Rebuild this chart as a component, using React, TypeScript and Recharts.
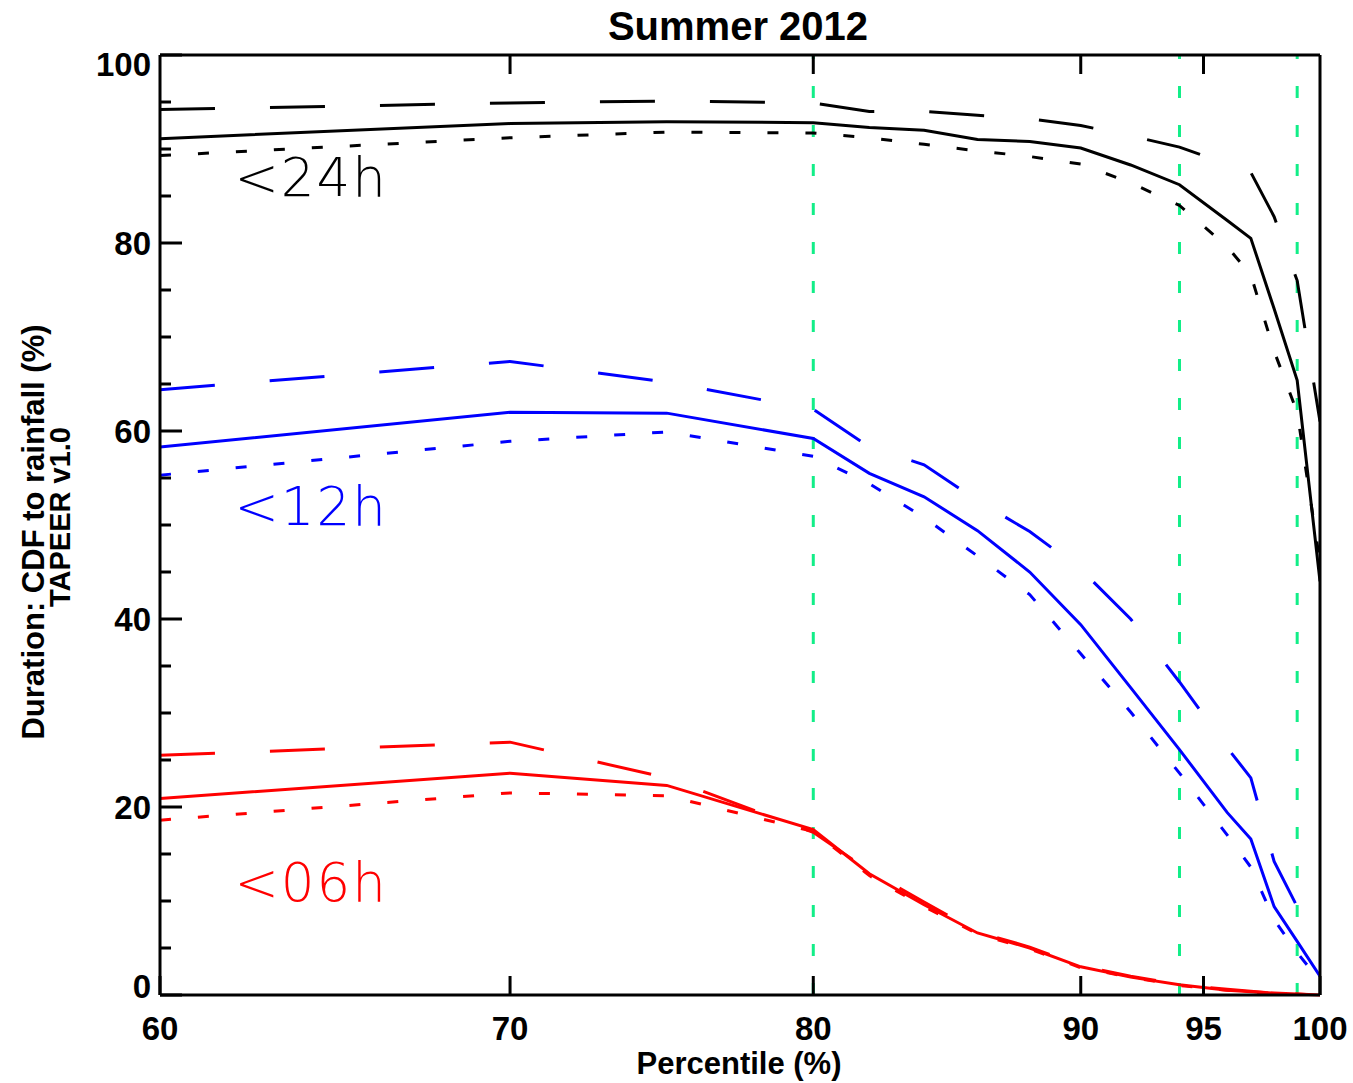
import { Line, LineChart, ReferenceDot, ReferenceLine, XAxis, YAxis } from "recharts";

// percentile grid of the curves
const PERCENTILES = [60, 70, 75, 80, 82, 84, 86, 88, 90, 92, 94, 96, 97, 98, 99, 100];

// <24h
const H24_SOLID = [91.1, 92.7, 92.9, 92.8, 92.3, 92.0, 91.0, 90.8, 90.1, 88.3, 86.2, 82.4, 80.5, 73.0, 65.4, 44.0];
const H24_DASHED = [94.2, 94.9, 95.1, 94.9, 94.0, 94.0, 93.6, 93.2, 92.5, 91.4, 90.2, 88.4, 87.5, 82.8, 76.0, 61.0];
const H24_DOTTED = [89.3, 91.2, 91.8, 91.7, 91.2, 90.5, 89.8, 89.2, 88.4, 86.4, 84.0, 79.6, 76.6, 68.5, 62.0, 46.0];

// <12h
const H12_SOLID = [58.3, 62.0, 61.9, 59.2, 55.5, 53.0, 49.4, 45.0, 39.4, 32.7, 26.1, 19.4, 16.6, 9.4, 5.7, 2.0];
const H12_DASHED = [64.4, 67.4, 65.2, 62.3, 58.3, 56.4, 52.6, 49.3, 45.3, 40.0, 33.3, 26.3, 23.1, 14.2, 9.4, 5.0];
const H12_DOTTED = [55.3, 58.9, 59.9, 57.3, 54.4, 50.8, 46.7, 42.6, 36.3, 30.1, 23.6, 17.0, 13.6, 8.0, 4.5, 1.5];

// <06h
const H06_SOLID = [20.9, 23.6, 22.3, 17.6, 12.9, 9.6, 6.6, 5.0, 3.0, 1.9, 1.1, 0.5, 0.35, 0.2, 0.1, 0];
const H06_DASHED = [25.5, 26.9, 23.1, 17.3, 13.2, 9.9, 6.7, 5.1, 3.1, 2.0, 1.1, 0.6, 0.4, 0.2, 0.1, 0];
const H06_DOTTED = [18.6, 21.5, 21.2, 17.4, 12.7, 9.4, 6.5, 4.9, 2.9, 1.9, 1.0, 0.5, 0.3, 0.2, 0.1, 0];

const X_TICKS = [60, 70, 80, 90, 95, 100];
const X_TICKS_TOP = [70, 80, 90, 95];
const Y_TICKS = [0, 5, 10, 15, 20, 25, 30, 35, 40, 45, 50, 55, 60, 65, 70, 75, 80, 85, 90, 95, 100];
const GUIDE_PERCENTILES = [80, 94, 99];

const data = PERCENTILES.map((p, i) => ({
  p,
  h24Solid: H24_SOLID[i],
  h24Dashed: H24_DASHED[i],
  h24Dotted: H24_DOTTED[i],
  h12Solid: H12_SOLID[i],
  h12Dashed: H12_DASHED[i],
  h12Dotted: H12_DOTTED[i],
  h06Solid: H06_SOLID[i],
  h06Dashed: H06_DASHED[i],
  h06Dotted: H06_DOTTED[i],
}));

const LONG_DASH = "55 55";
const SHORT_DASH = "11 27";

const SERIES = [
  { key: "h24Solid", color: "#000000", dash: undefined },
  { key: "h24Dashed", color: "#000000", dash: LONG_DASH },
  { key: "h24Dotted", color: "#000000", dash: SHORT_DASH },
  { key: "h12Solid", color: "#0000ff", dash: undefined },
  { key: "h12Dashed", color: "#0000ff", dash: LONG_DASH },
  { key: "h12Dotted", color: "#0000ff", dash: SHORT_DASH },
  { key: "h06Solid", color: "#ff0000", dash: undefined },
  { key: "h06Dashed", color: "#ff0000", dash: LONG_DASH },
  { key: "h06Dotted", color: "#ff0000", dash: SHORT_DASH },
];

const LABEL_FONT = "'Liberation Sans', Arial, sans-serif";
const AXIS = { stroke: "#000", strokeWidth: 3 };

function LeftTick(props: any) {
  const { x, y, payload } = props;
  const v = payload.value as number;
  const major = v % 20 === 0;
  const dy = v === 100 ? 9 : v === 0 ? -9 : 0;
  return (
    <g>
      <line x1={x} x2={x + (major ? 22 : 11)} y1={y} y2={y} stroke="#000" strokeWidth={3} />
      {major ? (
        <text
          x={x - 9}
          y={y + dy}
          textAnchor="end"
          dominantBaseline="central"
          fontFamily={LABEL_FONT}
          fontWeight={700}
          fontSize={33}
          fill="#000"
        >
          {v}
        </text>
      ) : null}
    </g>
  );
}

function RightTick(props: any) {
  const { x, y, payload } = props;
  const major = (payload.value as number) % 20 === 0;
  return <line x1={x} x2={x - (major ? 22 : 11)} y1={y} y2={y} stroke="#000" strokeWidth={3} />;
}

function BottomTick(props: any) {
  const { x, y, payload } = props;
  return (
    <g>
      <line x1={x} x2={x} y1={y} y2={y - 19} stroke="#000" strokeWidth={3} />
      <text
        x={x}
        y={y + 33}
        textAnchor="middle"
        dominantBaseline="central"
        fontFamily={LABEL_FONT}
        fontWeight={700}
        fontSize={33}
        fill="#000"
      >
        {payload.value}
      </text>
    </g>
  );
}

function TopTick(props: any) {
  const { x, y } = props;
  return <line x1={x} x2={x} y1={y} y2={y + 19} stroke="#000" strokeWidth={3} />;
}

function curveLabel(text: string, color: string) {
  return (props: any) => (
    <text
      x={props.cx}
      y={props.cy}
      fontFamily="'DejaVu Sans', sans-serif"
      fontWeight={300}
      fontSize={53}
      letterSpacing={2}
      fill={color}
    >
      {text}
    </text>
  );
}

export default function App() {
  return (
    <div style={{ position: "absolute", left: 0, top: 0, width: 1353, height: 1083, background: "#fff" }}>
      <LineChart width={1353} height={1083} data={data} margin={{ top: 54, right: 0, bottom: 0, left: 0 }}>
        <XAxis
          xAxisId="b"
          dataKey="p"
          type="number"
          scale="log"
          domain={[60, 100]}
          allowDataOverflow
          ticks={X_TICKS}
          interval={0}
          height={88}
          tickSize={0}
          tickMargin={0}
          tickLine={false}
          axisLine={AXIS}
          tick={<BottomTick />}
        />
        <XAxis
          xAxisId="t"
          orientation="top"
          dataKey="p"
          type="number"
          scale="log"
          domain={[60, 100]}
          allowDataOverflow
          ticks={X_TICKS_TOP}
          interval={0}
          height={1}
          tickSize={0}
          tickMargin={0}
          tickLine={false}
          axisLine={AXIS}
          tick={<TopTick />}
        />
        <YAxis
          yAxisId="l"
          type="number"
          domain={[0, 100]}
          ticks={Y_TICKS}
          interval={0}
          width={160}
          tickSize={0}
          tickMargin={0}
          tickLine={false}
          axisLine={AXIS}
          tick={<LeftTick />}
        />
        <YAxis
          yAxisId="r"
          orientation="right"
          type="number"
          domain={[0, 100]}
          ticks={Y_TICKS}
          interval={0}
          width={33}
          tickSize={0}
          tickMargin={0}
          tickLine={false}
          axisLine={AXIS}
          tick={<RightTick />}
        />
        {GUIDE_PERCENTILES.map((g) => (
          <ReferenceLine
            key={g}
            xAxisId="b"
            yAxisId="l"
            x={g}
            stroke="#12ee88"
            strokeWidth={3}
            strokeDasharray="12 27"
          />
        ))}
        {SERIES.map((s) => (
          <Line
            key={s.key}
            xAxisId="b"
            yAxisId="l"
            dataKey={s.key}
            type="linear"
            stroke={s.color}
            strokeWidth={3}
            strokeDasharray={s.dash}
            dot={false}
            activeDot={false}
            isAnimationActive={false}
          />
        ))}
        <ReferenceDot xAxisId="b" yAxisId="l" x={62} y={85} r={0} shape={curveLabel("<24h", "#000000")} />
        <ReferenceDot xAxisId="b" yAxisId="l" x={62} y={50} r={0} shape={curveLabel("<12h", "#0000ff")} />
        <ReferenceDot xAxisId="b" yAxisId="l" x={62} y={10} r={0} shape={curveLabel("<06h", "#ff0000")} />
      </LineChart>
      <svg width={1353} height={1083} style={{ position: "absolute", left: 0, top: 0, pointerEvents: "none" }}>
        <text x={738} y={26} textAnchor="middle" dominantBaseline="central" fontFamily={LABEL_FONT} fontWeight={700} fontSize={40}>
          Summer 2012
        </text>
        <text x={739} y={1063} textAnchor="middle" dominantBaseline="central" fontFamily={LABEL_FONT} fontWeight={700} fontSize={31}>
          Percentile (%)
        </text>
        <text
          transform="translate(33 532) rotate(-90)"
          textAnchor="middle"
          dominantBaseline="central"
          fontFamily={LABEL_FONT}
          fontWeight={700}
          fontSize={31}
        >
          Duration: CDF to rainfall (%)
        </text>
        <text
          transform="translate(60 517) rotate(-90)"
          textAnchor="middle"
          dominantBaseline="central"
          fontFamily={LABEL_FONT}
          fontWeight={700}
          fontSize={29}
        >
          TAPEER v1.0
        </text>
      </svg>
    </div>
  );
}
